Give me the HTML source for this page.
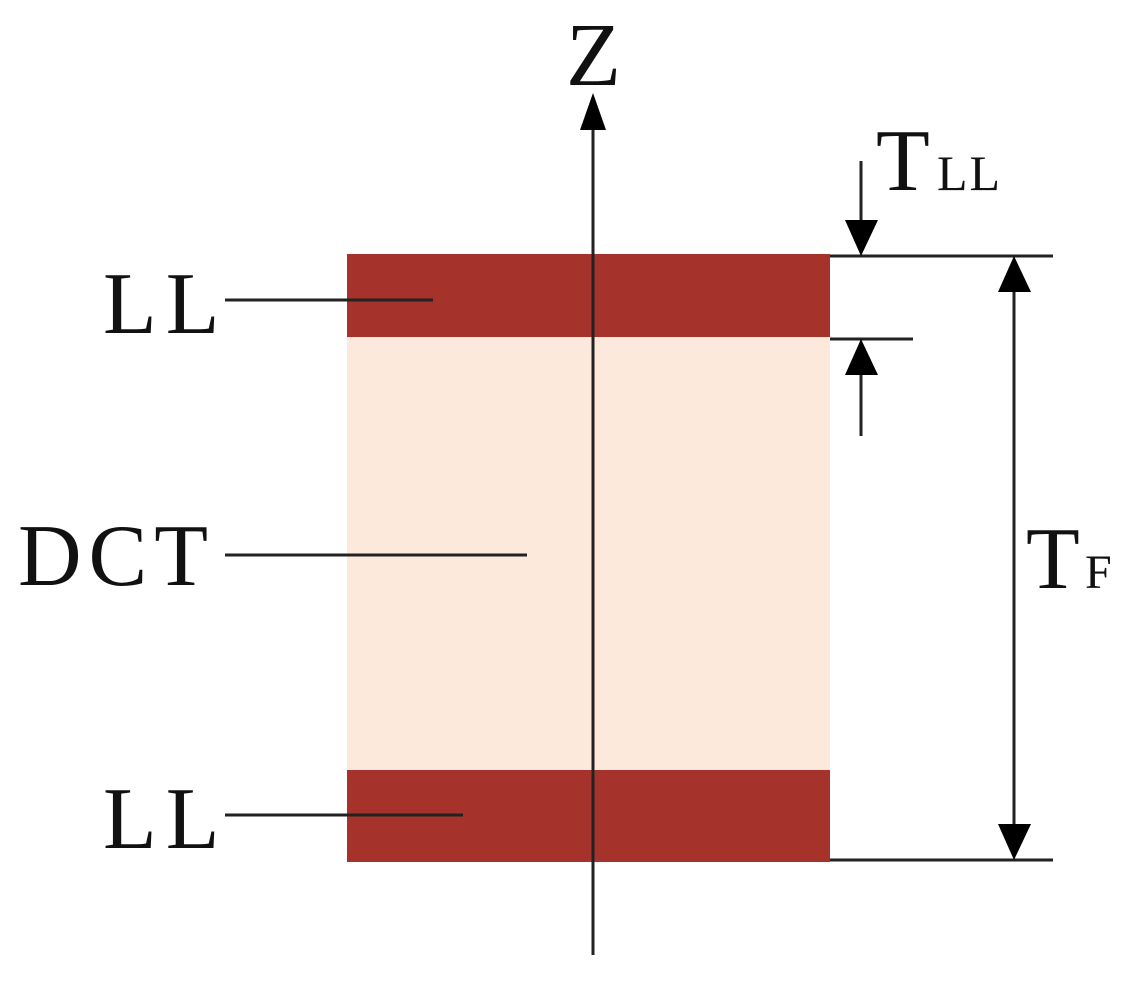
<!DOCTYPE html>
<html><head><style>body{margin:0;background:#fff}</style></head><body>
<svg width="1129" height="977" xmlns="http://www.w3.org/2000/svg" font-family="Liberation Serif, serif">
<rect width="1129" height="977" fill="#fff"/>
<rect x="347" y="336" width="483" height="434" fill="#fde9dc"/>
<rect x="347" y="254" width="483" height="83" fill="#a5332b"/>
<rect x="347" y="770" width="483" height="92" fill="#a5332b"/>
<g stroke="#222" stroke-width="3" fill="none">
<line x1="593" y1="120" x2="593" y2="955"/>
<line x1="830" y1="256" x2="1053" y2="256"/>
<line x1="830" y1="339" x2="913" y2="339"/>
<line x1="830" y1="860" x2="1053" y2="860"/>
<line x1="861" y1="161" x2="861" y2="225"/>
<line x1="861" y1="370" x2="861" y2="436"/>
<line x1="1014" y1="285" x2="1014" y2="830"/>
<line x1="225" y1="300" x2="433" y2="300"/>
<line x1="225" y1="555" x2="527" y2="555"/>
<line x1="225" y1="815" x2="463" y2="815"/>
</g>
<g fill="#000">
<polygon points="593,93 580,130 606,130"/>
<polygon points="861,256 845,220 878,220"/>
<polygon points="861,339 845,375 878,375"/>
<polygon points="1014,256 998,292 1031,292"/>
<polygon points="1014,860 998,824 1031,824"/>
</g>
<g fill="#111">
<text x="566" y="85" font-size="90">Z</text>
<text x="876" y="190" font-size="88">T</text>
<text x="937" y="190" font-size="50" letter-spacing="2">LL</text>
<text x="1026" y="588" font-size="88">T</text>
<text x="1085" y="588" font-size="48">F</text>
<text x="103" y="333" font-size="88" letter-spacing="9">LL</text>
<text x="18" y="585" font-size="88" letter-spacing="7">DCT</text>
<text x="103" y="848" font-size="88" letter-spacing="9">LL</text>
</g>
</svg>
</body></html>
